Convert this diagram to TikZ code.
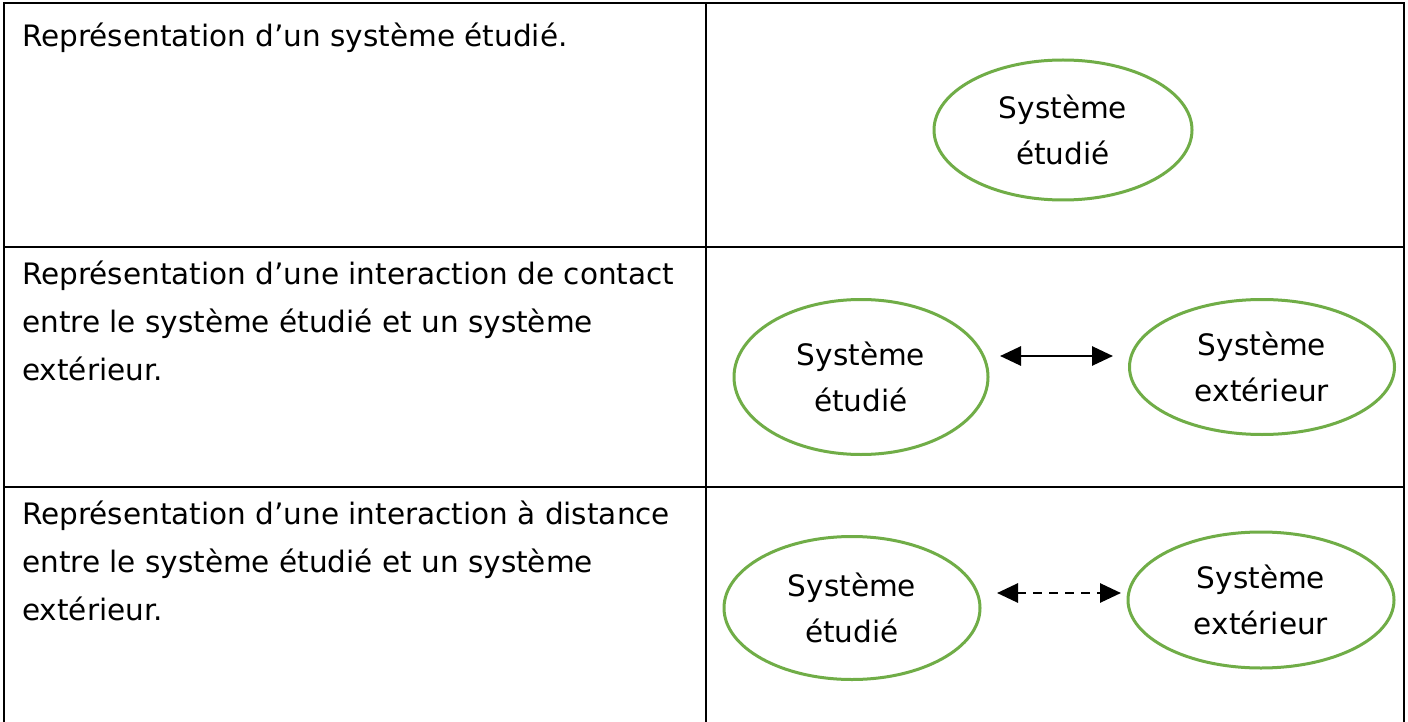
\documentclass[tikz,border=0pt]{standalone}
\usepackage{fontspec}
\setmainfont{DejaVu Sans}
\usetikzlibrary{arrows.meta,shapes.geometric}
\definecolor{egreen}{RGB}{112,173,71}
\tikzset{
  grid/.style={line width=2.8pt, black},
  sys/.style={ellipse, draw=egreen, line width=3pt, inner sep=0pt, align=center,
    font=\fontsize{29.5}{46}\selectfont},
  lbl/.style={anchor=base west, align=left, inner sep=0pt,
    font=\fontsize{29.5}{48}\selectfont},
  arr/.style={line width=2.8pt, {Triangle[length=21pt,width=19pt]}-{Triangle[length=21pt,width=19pt]}},
  darr/.style={arr, dash pattern=on 9pt off 7pt}
}
\begin{document}
\begin{tikzpicture}[x=1pt,y={(0pt,-1pt)}]
\useasboundingbox (0,0) rectangle (1408,722);
\fill[white] (0,0) rectangle (1408,722);
% table
\draw[grid] (4,724) -- (4,3) -- (1404,3) -- (1404,724);
\draw[grid] (706,3) -- (706,724);
\draw[grid] (4,247) -- (1404,247);
\draw[grid] (4,487) -- (1404,487);
% left texts (anchored at baseline of last line)
\node[lbl] (t1) at (22,47) {Représentation d’un système étudié.};
\node[lbl] (t2) at (22,380) {Représentation d’une interaction de contact\\entre le système étudié et un système\\extérieur.};
\node[lbl] (t3) at (22,620) {Représentation d’une interaction à distance\\entre le système étudié et un système\\extérieur.};
% ellipses
\node[sys, minimum width=258pt, minimum height=140pt] (e1) at (1063,130) {Système\\étudié};
\node[sys, minimum width=254pt, minimum height=155pt] (e2a) at (861,377) {Système\\étudié};
\node[sys, minimum width=265pt, minimum height=135pt] (e2b) at (1262,367) {Système\\extérieur};
\node[sys, minimum width=256pt, minimum height=143pt] (e3a) at (852,608) {Système\\étudié};
\node[sys, minimum width=266pt, minimum height=136pt] (e3b) at (1261,600) {Système\\extérieur};
% arrows
\coordinate (a2s) at (1000,356);
\coordinate (a2e) at (1113,356);
\coordinate (a3s) at (997,593);
\coordinate (a3e) at (1121,593);
\draw[arr] (a2s) -- (a2e);
\draw[darr] (a3s) -- (a3e);
\end{tikzpicture}
\end{document}
